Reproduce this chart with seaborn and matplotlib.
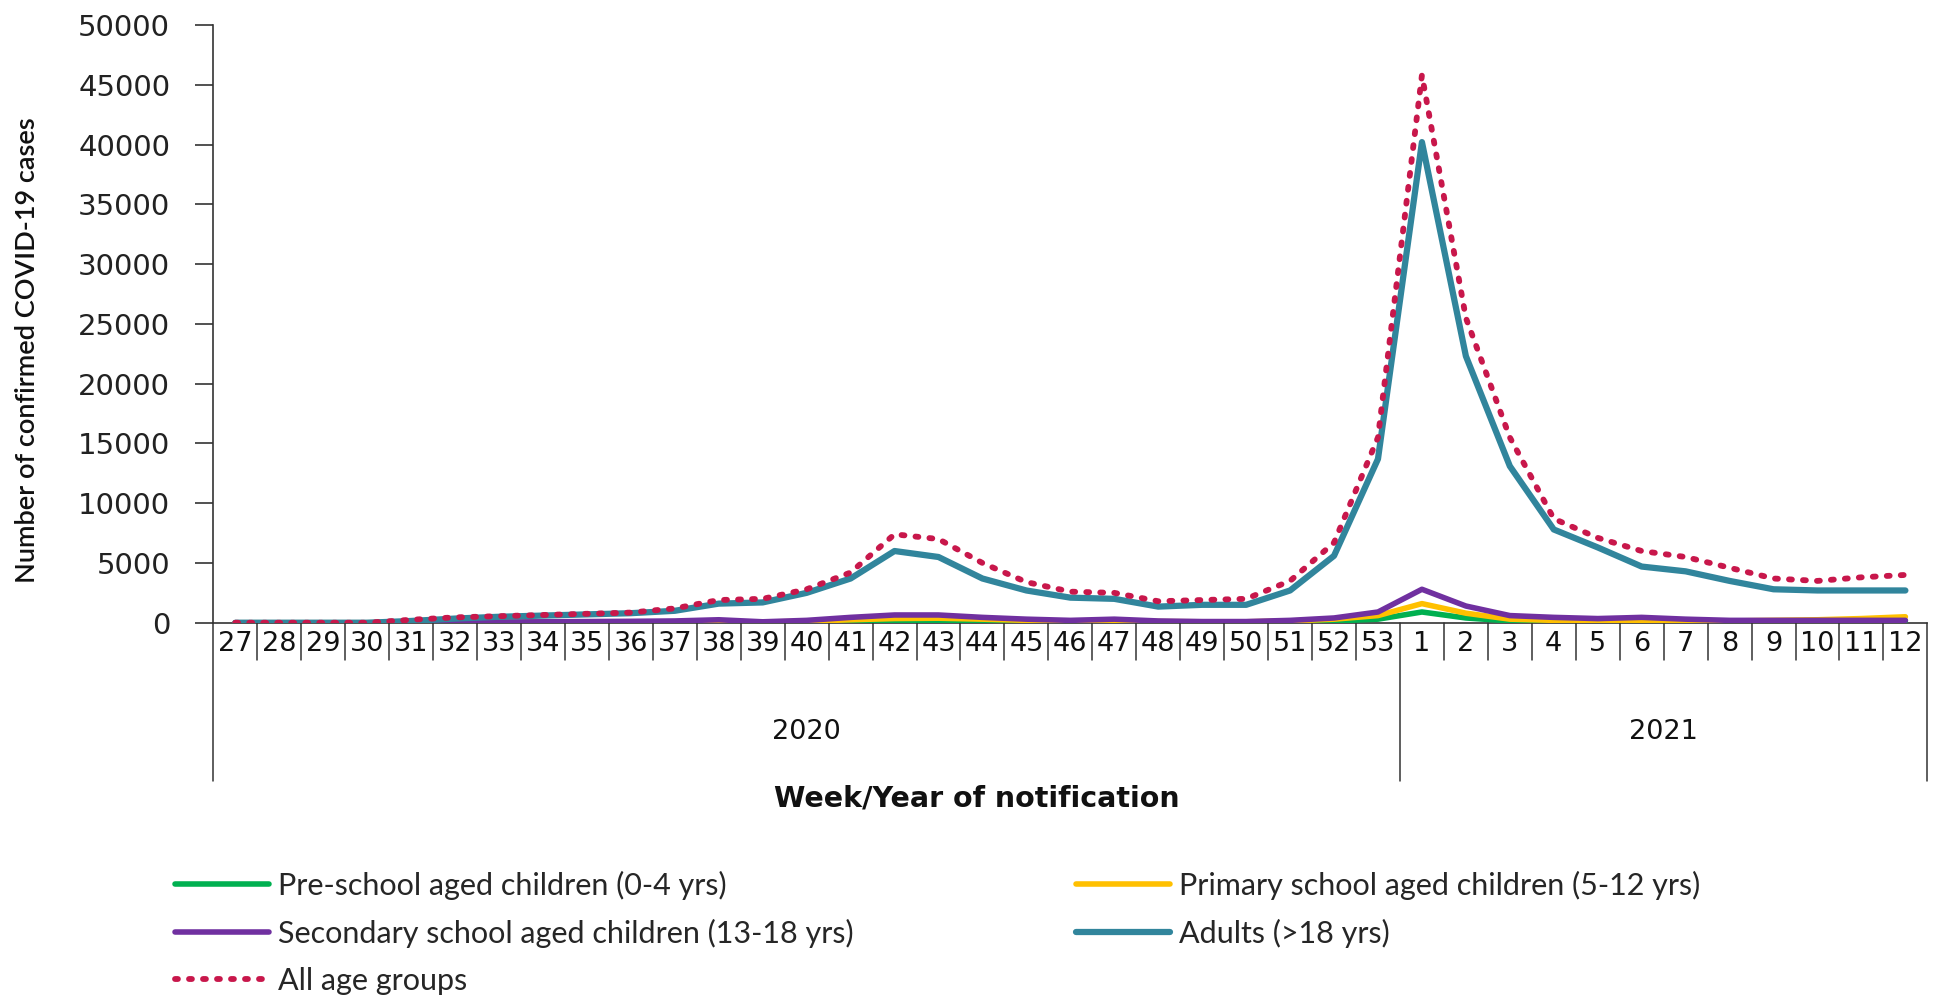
import numpy as np
import pandas as pd
import matplotlib
matplotlib.use("Agg")
import matplotlib.pyplot as plt
import matplotlib.transforms as mtransforms
from matplotlib.lines import Line2D
import seaborn as sns

weeks = [str(w) for w in range(27, 54)] + [str(w) for w in range(1, 13)]
years = ["2020", "2021"]
n2020 = 27

preschool = [0, 0, 0, 0, 5, 10, 15, 20, 25, 30, 40, 50, 30, 60, 100, 150, 170, 130, 90, 60, 80, 50, 40, 40, 70, 150, 300,
             900, 400, 150, 100, 80, 100, 80, 70, 80, 100, 120, 150]
primary = [0, 0, 0, 0, 10, 20, 30, 40, 50, 60, 80, 100, 60, 120, 250, 350, 380, 300, 200, 120, 180, 100, 80, 80, 150, 300, 600,
           1600, 800, 300, 200, 150, 200, 150, 150, 200, 250, 350, 500]
secondary = [0, 0, 0, 0, 30, 50, 60, 80, 100, 120, 150, 250, 80, 200, 450, 650, 650, 450, 300, 200, 300, 150, 100, 100, 200, 400, 900,
             2800, 1400, 600, 450, 350, 450, 300, 200, 200, 200, 200, 200]
adults = [0, 0, 0, 0, 150, 350, 500, 600, 700, 800, 1000, 1600, 1700, 2500, 3700, 6000, 5500, 3700, 2700, 2100, 2000, 1350, 1500, 1500, 2700, 5600, 13700,
          40200, 22300, 13100, 7800, 6300, 4700, 4300, 3500, 2800, 2700, 2700, 2700]
all_ages = [0, 0, 0, 0, 250, 450, 550, 650, 750, 850, 1200, 1900, 2000, 2800, 4200, 7400, 7000, 5000, 3400, 2600, 2500, 1800, 1900, 2000, 3500, 6700, 15500,
            45800, 25500, 15500, 8700, 7100, 6000, 5500, 4600, 3700, 3500, 3800, 4000]

labels = ["Pre-school aged children (0-4 yrs)",
          "Primary school aged children (5-12 yrs)",
          "Secondary school aged children (13-18 yrs)",
          "Adults (>18 yrs)",
          "All age groups"]
colors = ["#00B050", "#FFC000", "#7030A0", "#31859C", "#C8174B"]

sns.set_style("white")
plt.rcParams["font.family"] = ["DejaVu Sans"]
narrow = ["Lato", "DejaVu Sans"]

fig = plt.figure(figsize=(19.39, 9.98), dpi=100)
ax = fig.add_axes([0.110, 0.376, 0.884, 0.599])

x = np.arange(len(weeks))
series = [preschool, primary, secondary, adults, all_ages]
handles = []
for vals, lab, col in zip(series, labels, colors):
    if lab == "All age groups":
        sns.lineplot(x=x, y=vals, ax=ax, color=col, linewidth=4.2,
                     linestyle=(0, (0.5, 1.9)), dash_capstyle="round", zorder=5)
        handles.append(Line2D([], [], color=col, linewidth=4.2, linestyle=(0, (0.5, 1.9)),
                              dash_capstyle="round"))
    else:
        lw = 4.5 if lab.startswith("Adults") else 4.0
        sns.lineplot(x=x, y=vals, ax=ax, color=col, linewidth=lw, zorder=4)
        handles.append(Line2D([], [], color=col, linewidth=lw))

ax.set_xlim(-0.5, len(weeks) - 0.5)
ax.set_ylim(0, 50000)
ax.set_yticks(np.arange(0, 50001, 5000))
ax.set_yticklabels([str(v) for v in range(0, 50001, 5000)], fontsize=21, color="#222222")
ax.set_xticks(x)
ax.set_xticklabels(weeks, fontsize=19.5, color="#111111")
ax.tick_params(axis="x", length=0, pad=6)
ax.tick_params(axis="y", length=13, width=1.2, color="#333333", pad=18, direction="out", left=True)
ax.set_xlabel("")
ax.set_ylabel("")
for s in ["top", "right"]:
    ax.spines[s].set_visible(False)
for s in ["left", "bottom"]:
    ax.spines[s].set_color("#333333")
    ax.spines[s].set_linewidth(1.2)

trans = mtransforms.blended_transform_factory(ax.transData, ax.transAxes)
boundaries = [-0.5, n2020 - 0.5, len(weeks) - 0.5]
for i in range(len(weeks) + 1):
    xb = i - 0.5
    y_end = -0.265 if xb in boundaries else -0.062
    ax.add_line(Line2D([xb, xb], [0, y_end], transform=trans, color="#333333",
                       linewidth=1.1, clip_on=False))
ax.text((n2020 - 1) / 2, -0.183, years[0], transform=trans, ha="center", va="center",
        fontsize=19.5, color="#111111")
ax.text((n2020 + len(weeks) - 1) / 2, -0.183, years[1], transform=trans, ha="center", va="center",
        fontsize=19.5, color="#111111")

fig.text(0.504, 0.200, "Week/Year of notification", ha="center", va="center",
         fontsize=20.5, fontweight="bold", color="#111111")
fig.text(0.014, 0.649, "Number of confirmed COVID-19 cases", rotation=90, ha="center", va="center",
         fontsize=19.5, family=narrow, fontweight="semibold", color="#111111")

order = [0, 2, 4, 1, 3]
leg = fig.legend([handles[i] for i in order], [labels[i] for i in order],
                 loc="upper left", bbox_to_anchor=(0.0763, 0.155), ncol=2, frameon=False,
                 prop={"family": narrow, "size": 22}, handlelength=3.05, handletextpad=0.3,
                 columnspacing=7.3, labelspacing=0.62)

fig.savefig("out.png", dpi=100)
